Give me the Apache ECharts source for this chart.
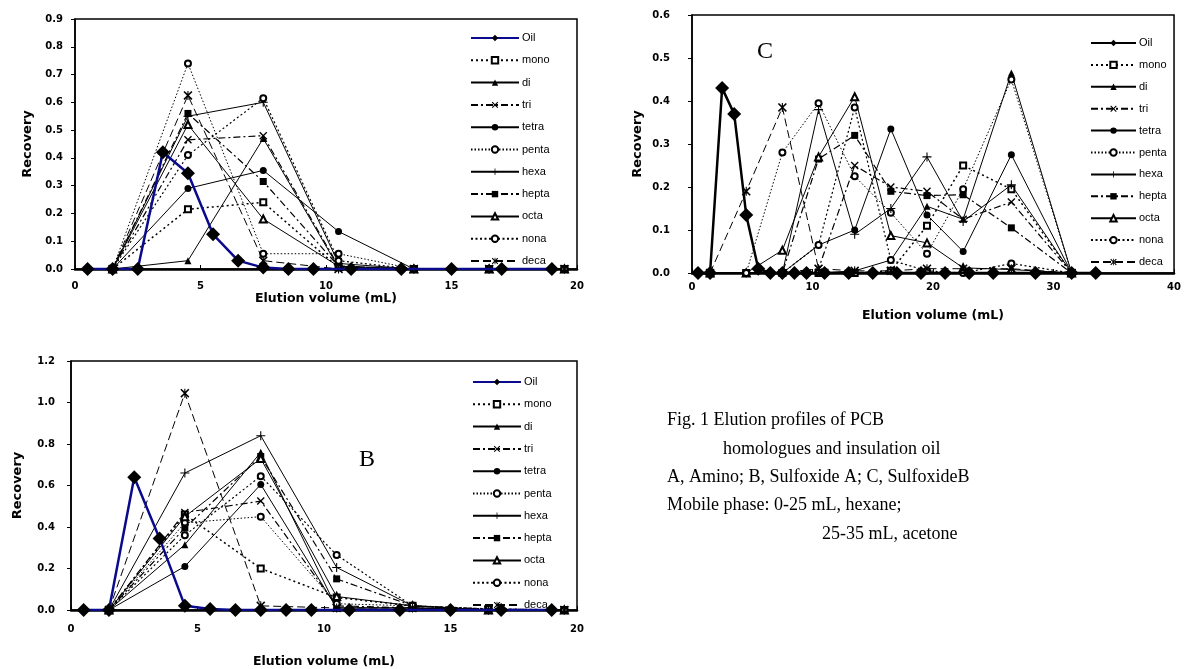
<!DOCTYPE html>
<html>
<head>
<meta charset="utf-8">
<script src="https://cdn.jsdelivr.net/npm/echarts@6/dist/echarts.min.js"></script>
<style>
  html, body { margin: 0; background: #fff; }
  #chart { width: 1184px; height: 669px; }
</style>
</head>
<body>
<div id="chart"></div>
<script>
const names = ['Oil', 'mono', 'di', 'tri', 'tetra', 'penta', 'hexa', 'hepta', 'octa', 'nona', 'deca']

// A, Amino column
const oilXA = [0.5, 1.5, 2.5, 3.5, 4.5, 5.5, 6.5, 7.5, 8.5, 9.5, 11, 13, 15, 17, 19]
const oilA = [0, 0, 0, 0.42, 0.345, 0.125, 0.03, 0.005, 0, 0, 0, 0, 0, 0, 0]
const fracXA = [1.5, 4.5, 7.5, 10.5, 13.5, 16.5, 19.5]
const monoA = [0, 0.215, 0.24, 0.005, 0, 0, 0]
const diA = [0, 0.03, 0.47, 0.005, 0, 0, 0]
const triA = [0, 0.465, 0.48, 0.01, 0, 0, 0]
const tetraA = [0, 0.29, 0.355, 0.135, 0, 0, 0]
const pentaA = [0, 0.74, 0.055, 0.055, 0, 0, 0]
const hexaA = [0, 0.55, 0.6, 0.02, 0, 0, 0]
const heptaA = [0, 0.56, 0.315, 0.01, 0, 0, 0]
const octaA = [0, 0.52, 0.18, 0.01, 0, 0, 0]
const nonaA = [0, 0.41, 0.615, 0.03, 0, 0, 0]
const decaA = [0, 0.625, 0.03, 0, 0, 0, 0]

// B, Sulfoxide A column
const oilXB = [0.5, 1.5, 2.5, 3.5, 4.5, 5.5, 6.5, 7.5, 8.5, 9.5, 11, 13, 15, 17, 19]
const oilB = [0, 0, 0.64, 0.345, 0.02, 0.005, 0, 0, 0, 0, 0, 0, 0, 0, 0]
const fracXB = [1.5, 4.5, 7.5, 10.5, 13.5, 16.5, 19.5]
const monoB = [0, 0.46, 0.2, 0.06, 0.02, 0.005, 0]
const diB = [0, 0.315, 0.76, 0.01, 0.01, 0, 0]
const triB = [0, 0.47, 0.525, 0.02, 0.01, 0, 0]
const tetraB = [0, 0.21, 0.605, 0.01, 0.01, 0, 0]
const pentaB = [0, 0.42, 0.45, 0.03, 0.02, 0.005, 0]
const hexaB = [0, 0.66, 0.84, 0.205, 0.02, 0, 0]
const heptaB = [0, 0.395, 0.74, 0.15, 0.02, 0, 0]
const octaB = [0, 0.45, 0.73, 0.065, 0.02, 0, 0]
const nonaB = [0, 0.36, 0.645, 0.265, 0.02, 0.005, 0]
const decaB = [0, 1.045, 0.02, 0.01, 0.01, 0, 0]

// C, Sulfoxide B column
const oilXC = [0.5, 1.5, 2.5, 3.5, 4.5, 5.5, 6.5, 7.5, 8.5, 9.5, 11, 13, 15, 17, 19, 21, 23, 25, 28.5, 31.5, 33.5]
const oilC = [0, 0, 0.43, 0.37, 0.135, 0.01, 0, 0, 0, 0, 0, 0, 0, 0, 0, 0, 0, 0, 0, 0, 0]
const fracXC = [1.5, 4.5, 7.5, 10.5, 13.5, 16.5, 19.5, 22.5, 26.5, 31.5]
const monoC = [0, 0, 0, 0, 0, 0.005, 0.11, 0.25, 0.195, 0]
const diC = [0, 0, 0, 0, 0.005, 0.03, 0.155, 0.125, 0.465, 0]
const triC = [0, 0, 0, 0.01, 0.25, 0.2, 0.19, 0.125, 0.165, 0]
const tetraC = [0, 0, 0, 0.065, 0.1, 0.335, 0.135, 0.05, 0.275, 0]
const pentaC = [0, 0, 0.28, 0.395, 0.225, 0.14, 0.045, 0.195, 0.45, 0]
const hexaC = [0, 0, 0, 0.38, 0.09, 0.15, 0.27, 0.12, 0.205, 0]
const heptaC = [0, 0, 0, 0.265, 0.32, 0.19, 0.18, 0.182, 0.105, 0]
const octaC = [0, 0, 0.053, 0.27, 0.41, 0.087, 0.07, 0.012, 0.008, 0]
const nonaC = [0, 0, 0, 0.065, 0.385, 0.03, 0.005, 0, 0.022, 0]
const decaC = [0, 0.19, 0.385, 0.01, 0.005, 0.005, 0.01, 0.01, 0.01, 0]

const X_PATH = 'path://M0,1.2L1.2,0L5,3.8L8.8,0L10,1.2L6.2,5L10,8.8L8.8,10L5,6.2L1.2,10L0,8.8L3.8,5Z'
const PLUS_PATH = 'path://M4.4,0L5.6,0L5.6,4.4L10,4.4L10,5.6L5.6,5.6L5.6,10L4.4,10L4.4,5.6L0,5.6L0,4.4L4.4,4.4Z'
const STAR_PATH = X_PATH + 'M4.4,0L5.6,0L5.6,10L4.4,10Z'

const look = {
  mono: { symbol: 'emptyRect', size: 6, type: [2, 3], width: 1.5 },
  di: { symbol: 'triangle', size: 7, type: 'solid', width: 1 },
  tri: { symbol: X_PATH, size: 8, type: [7, 3, 2, 3], width: 1.2 },
  tetra: { symbol: 'circle', size: 7, type: 'solid', width: 1 },
  penta: { symbol: 'emptyCircle', size: 6, type: [1.5, 2], width: 1 },
  hexa: { symbol: PLUS_PATH, size: 9, type: 'solid', width: 1 },
  hepta: { symbol: 'rect', size: 7, type: [7, 3, 2, 3], width: 1.2 },
  octa: { symbol: 'emptyTriangle', size: 7, type: 'solid', width: 1 },
  nona: { symbol: 'emptyCircle', size: 6, type: [2, 2.5], width: 1.2 },
  deca: { symbol: STAR_PATH, size: 9, type: [8, 4], width: 1 }
}

const pairs = (xs, ys) => xs.map((x, i) => [x, ys[i]])

const pcb = (name, xs, ys, idx) => {
  const s = look[name]
  const empty = s.symbol.indexOf('empty') === 0
  return {
    type: 'line', name, xAxisIndex: idx, yAxisIndex: idx,
    data: pairs(xs, ys),
    symbol: s.symbol, symbolSize: s.size, symbolKeepAspect: true,
    lineStyle: { color: '#000', width: s.width, type: s.type },
    itemStyle: { color: '#000', borderColor: '#000', borderWidth: empty ? 0.8 : 0 },
    z: 3
  }
}

const oil = (xs, ys, idx, color) => ({
  type: 'line', name: 'Oil', xAxisIndex: idx, yAxisIndex: idx,
  data: pairs(xs, ys),
  symbol: 'diamond', symbolSize: 14,
  lineStyle: { color, width: 2.5 },
  itemStyle: { color: '#000' },
  z: 5
})

const panels = [
  { oilX: oilXA, oil: oilA, x: fracXA, color: '#0a0a8c',
    v: { mono: monoA, di: diA, tri: triA, tetra: tetraA, penta: pentaA, hexa: hexaA, hepta: heptaA, octa: octaA, nona: nonaA, deca: decaA } },
  { oilX: oilXC, oil: oilC, x: fracXC, color: '#000',
    v: { mono: monoC, di: diC, tri: triC, tetra: tetraC, penta: pentaC, hexa: hexaC, hepta: heptaC, octa: octaC, nona: nonaC, deca: decaC } },
  { oilX: oilXB, oil: oilB, x: fracXB, color: '#0a0a8c',
    v: { mono: monoB, di: diB, tri: triB, tetra: tetraB, penta: pentaB, hexa: hexaB, hepta: heptaB, octa: octaB, nona: nonaB, deca: decaB } }
]

const series = []
panels.forEach((p, idx) => {
  series.push(oil(p.oilX, p.oil, idx, p.color))
  names.slice(1).forEach(n => series.push(pcb(n, p.x, p.v[n], idx)))
})

const tickFont = { fontFamily: 'DejaVu Sans', fontWeight: 'bold', fontSize: 10, color: '#000' }
const nameFont = { fontFamily: 'DejaVu Sans', fontWeight: 'bold', fontSize: 12.5, color: '#000' }

const grids = [
  { left: 75, top: 19, width: 502, height: 250 },
  { left: 692, top: 15, width: 484, height: 258 },
  { left: 71, top: 361, width: 506, height: 253 }
].map(g => Object.assign(g, { show: true, borderColor: '#000', borderWidth: 1.5 }))

const xAx = (idx, max, interval, margin, nameGap) => ({
  type: 'value', gridIndex: idx, min: 0, max, interval,
  name: 'Elution volume (mL)', nameLocation: 'middle', nameGap, nameTextStyle: nameFont,
  axisLine: { lineStyle: { color: '#000', width: 2.5 } },
  axisTick: { inside: true, length: 4, lineStyle: { color: '#000' } },
  axisLabel: Object.assign({ margin }, tickFont),
  splitLine: { show: false }
})

const yAx = (idx, max, interval, margin, nameGap) => ({
  type: 'value', gridIndex: idx, min: 0, max, interval,
  name: 'Recovery', nameLocation: 'middle', nameGap, nameTextStyle: Object.assign({}, nameFont, { fontSize: 13 }),
  axisLine: { show: true, lineStyle: { color: '#000', width: 1.5 } },
  axisTick: { show: true, length: 4, lineStyle: { color: '#000' } },
  axisLabel: Object.assign({ margin, formatter: v => v.toFixed(1) }, tickFont),
  splitLine: { show: false }
})

const legendFor = (left, top, gap, width, oilColor) => ({
  orient: 'vertical', left, top, itemWidth: width, itemHeight: 8, itemGap: gap,
  selectedMode: false,
  textStyle: { fontFamily: 'Liberation Sans', fontSize: 11, color: '#000', padding: [0, 0, 0, -2] },
  data: names.map(n => n === 'Oil'
    ? { name: n, lineStyle: { color: oilColor }, itemStyle: { color: '#000' } }
    : n)
})

const caption = [
  ['Fig. 1 Elution profiles of PCB', 667, 420],
  ['homologues and insulation oil', 723, 449],
  ['A, Amino; B, Sulfoxide A; C, SulfoxideB', 667, 477],
  ['Mobile phase: 0-25 mL, hexane;', 667, 505],
  ['25-35 mL, acetone', 822, 534]
]

const chart = echarts.init(document.getElementById('chart'))
chart.setOption({
  animation: false,
  backgroundColor: '#fff',
  grid: grids,
  xAxis: [xAx(0, 20, 5, 12, 23), xAx(1, 40, 10, 9, 36), xAx(2, 20, 5, 14, 45)],
  yAxis: [yAx(0, 0.9, 0.1, 12, 41), yAx(1, 0.6, 0.1, 22, 48), yAx(2, 1.2, 0.2, 16, 47)],
  legend: [
    legendFor(465, 27.5, 11.3, 48, '#0a0a8c'),
    legendFor(1085, 32.5, 10.9, 45, '#000'),
    legendFor(467, 371.5, 11.3, 48, '#0a0a8c')
  ],
  graphic: [
    { type: 'text', left: 757, top: 40, style: { text: 'C', font: '24px "Liberation Serif"', fill: '#000' } },
    { type: 'text', left: 359, top: 448, style: { text: 'B', font: '24px "Liberation Serif"', fill: '#000' } }
  ].concat(caption.map(([t, x, y]) => ({
    type: 'text', x, y,
    style: { text: t, font: '18px "Liberation Serif"', fill: '#000', textVerticalAlign: 'middle' }
  }))),
  series
})
</script>
</body>
</html>
